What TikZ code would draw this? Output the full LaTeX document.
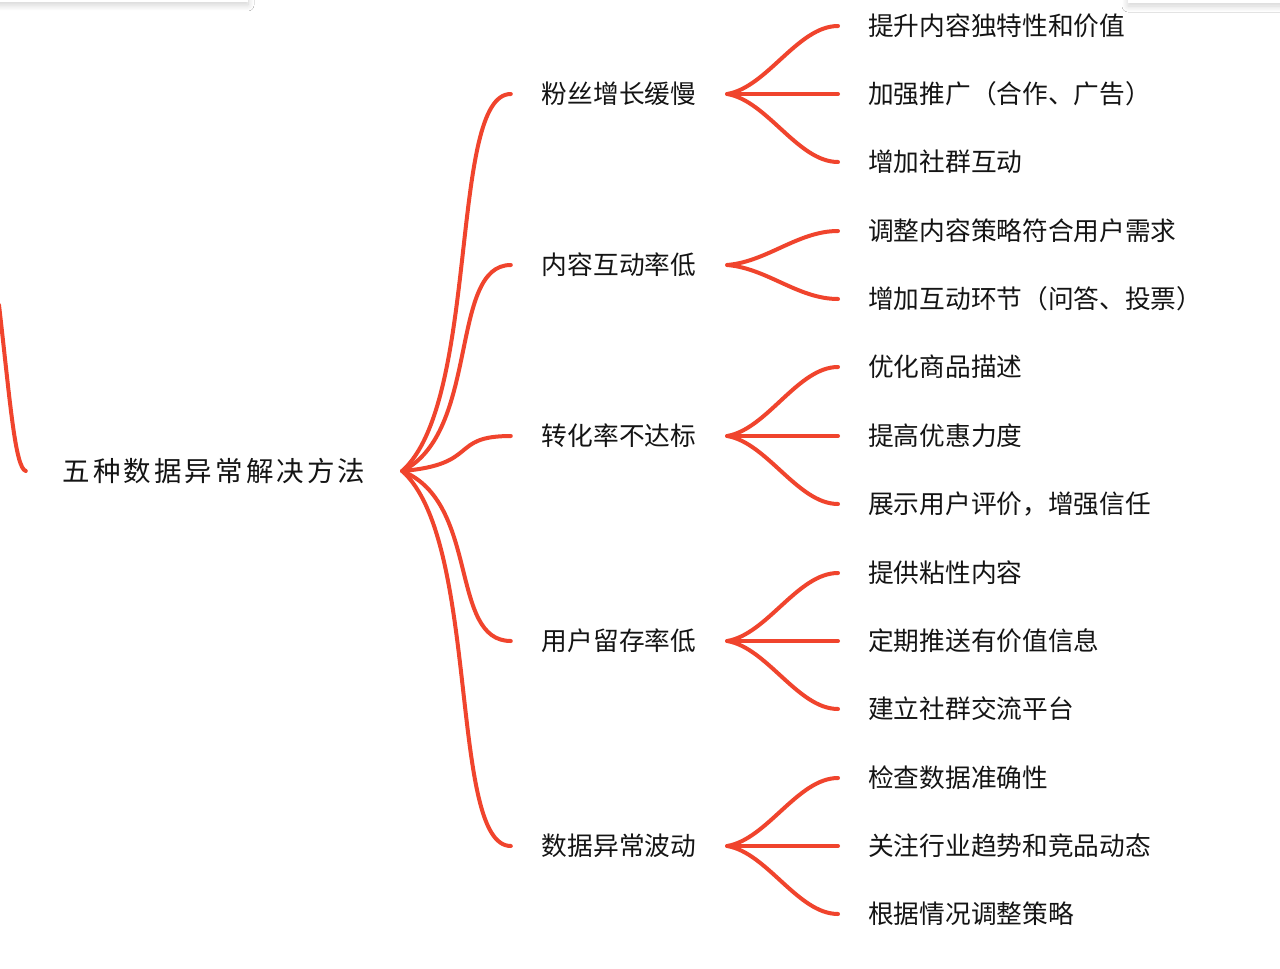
\documentclass[tikz,border=0pt]{standalone}
\usepackage{fontspec}
\newfontfamily\cjk{Noto Sans CJK SC}
\newfontfamily\cjkroot[LetterSpace=11]{Noto Sans CJK SC}
\usetikzlibrary{calc,shadows.blur}
\definecolor{linkred}{RGB}{240,68,45}
\definecolor{txt}{RGB}{20,20,20}
\tikzset{
  link/.style={draw=linkred, line width=4pt, line cap=round},
  rootbox/.style={font=\cjkroot\fontsize{27.5}{32}\selectfont, text=txt, inner sep=0pt, minimum width=376pt},
  branchbox/.style={font=\cjk\fontsize{25.7}{30}\selectfont, text=txt, inner sep=0pt, minimum width=216pt},
  leafbox/.style={font=\cjk\fontsize{25.7}{30}\selectfont, text=txt, inner xsep=30pt, inner ysep=0pt, anchor=west},
  card/.style={fill=white, blur shadow={shadow xshift=0pt, shadow yshift=-3pt, shadow blur radius=6pt, shadow blur steps=12, shadow opacity=18}},
}
\newcommand{\rootlink}[2]{\draw[link] let \p1=(#1.east), \p2=(#2.west) in (\p1) .. controls (\x1+78pt,{\y1+0.186*(\y2-\y1)}) and (\x2-62pt,\y2) .. (\p2);}
\newcommand{\leaflink}[2]{\draw[link] let \p1=(#1.east), \p2=(#2.west) in (\p1) .. controls (\x1+40pt,{\y1+0.1*(\y2-\y1)}) and (\x2-40pt,\y2) .. (\p2);}
\begin{document}
\begin{tikzpicture}[x=1pt,y=-1pt]
\useasboundingbox (0,0) rectangle (1280,969);
\fill[white] (0,0) rectangle (1280,969);
% faint cards at top edge
\path[card] (-30,-40) rectangle (248,2);
\path[card] (1128,-40) rectangle (1310,3);
\fill[white] (-30,-40) rectangle (248,2);
\fill[white] (1128,-40) rectangle (1310,3);

% root
\node[rootbox] (root) at (214,471) {五种数据异常解决方法};
\coordinate (up) at (-1,305);
\draw[link] (up) .. controls (10,400) and (15,468) .. (root.west);

% branches
\node[branchbox] (b1) at (619,94) {粉丝增长缓慢};
\node[branchbox] (b2) at (619,265) {内容互动率低};
\node[branchbox] (b3) at (619,436) {转化率不达标};
\node[branchbox] (b4) at (619,641) {用户留存率低};
\node[branchbox] (b5) at (619,846) {数据异常波动};

% leaves
\node[leafbox] (l1) at (838,26) {提升内容独特性和价值};
\node[leafbox] (l2) at (838,94) {加强推广（合作、广告）};
\node[leafbox] (l3) at (838,162) {增加社群互动};
\node[leafbox] (l4) at (838,231) {调整内容策略符合用户需求};
\node[leafbox] (l5) at (838,299) {增加互动环节（问答、投票）};
\node[leafbox] (l6) at (838,367) {优化商品描述};
\node[leafbox] (l7) at (838,436) {提高优惠力度};
\node[leafbox] (l8) at (838,504) {展示用户评价，增强信任};
\node[leafbox] (l9) at (838,573) {提供粘性内容};
\node[leafbox] (l10) at (838,641) {定期推送有价值信息};
\node[leafbox] (l11) at (838,709) {建立社群交流平台};
\node[leafbox] (l12) at (838,778) {检查数据准确性};
\node[leafbox] (l13) at (838,846) {关注行业趋势和竞品动态};
\node[leafbox] (l14) at (838,914) {根据情况调整策略};

% root links
\rootlink{root}{b1}
\rootlink{root}{b2}
\rootlink{root}{b3}
\rootlink{root}{b4}
\rootlink{root}{b5}

% leaf links
\leaflink{b1}{l1}
\leaflink{b1}{l2}
\leaflink{b1}{l3}
\leaflink{b2}{l4}
\leaflink{b2}{l5}
\leaflink{b3}{l6}
\leaflink{b3}{l7}
\leaflink{b3}{l8}
\leaflink{b4}{l9}
\leaflink{b4}{l10}
\leaflink{b4}{l11}
\leaflink{b5}{l12}
\leaflink{b5}{l13}
\leaflink{b5}{l14}
\end{tikzpicture}
\end{document}
